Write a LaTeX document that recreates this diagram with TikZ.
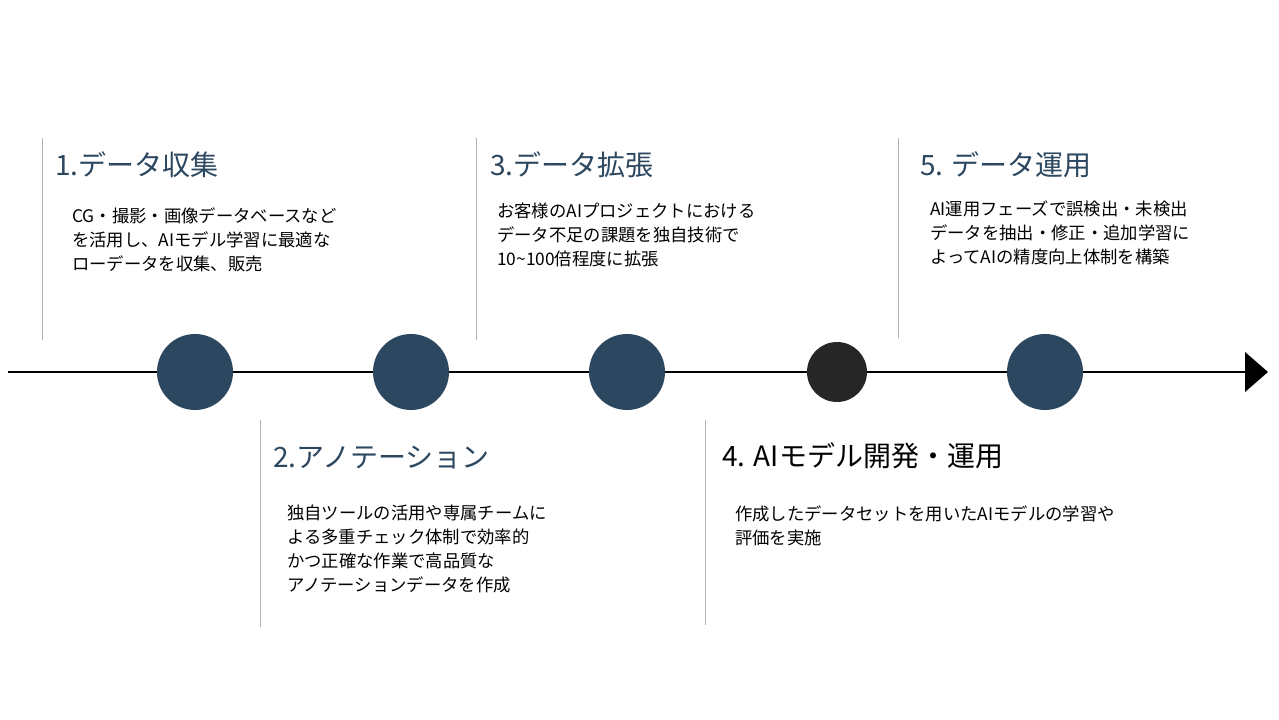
\documentclass[tikz,border=0pt]{standalone}
\usepackage{fontspec}
\setmainfont{Noto Sans CJK JP}
\begin{document}
\begin{tikzpicture}[x=0.75pt,y=-0.75pt,
  dot/.style={circle,fill=navy,draw=none,minimum size=57pt,inner sep=0},
  vline/.style={draw=gray!60,line width=0.6pt},
  ttl/.style={anchor=west,inner sep=0,text=navy,font=\fontsize{21}{25}\selectfont},
  body/.style={anchor=north west,inner sep=0,align=left,font=\fontsize{13}{18}\selectfont}]
\definecolor{navy}{HTML}{2C4760}
\definecolor{dk}{HTML}{262626}
\useasboundingbox (0,0) rectangle (1279,720);
\fill[white] (0,0) rectangle (1279,720);
\coordinate (s) at (8,372);
\coordinate (e) at (1245,372);
\draw[line width=0.9pt] (s) -- (e);
\fill (1245,352) -- (1268,372) -- (1245,392) -- cycle;
\node[dot] (c1) at (195,372) {};
\node[dot] (c2) at (411,372) {};
\node[dot] (c3) at (627,372) {};
\node[dot,fill=dk,minimum size=45pt] (c4) at (837,372) {};
\node[dot] (c5) at (1045,372) {};
\draw[vline] (42,138) -- (42,340);
\draw[vline] (476,138) -- (476,340);
\draw[vline] (898,138) -- (898,338);
\draw[vline] (260,420) -- (260,627);
\draw[vline] (705,420) -- (705,625);
\node[ttl] (t1) at (55,165) {1.データ収集};
\node[ttl] (t2) at (273,458) {2.アノテーション};
\node[ttl] (t3) at (490,165) {3.データ拡張};
\node[ttl,text=black] (t4) at (722,456) {4. AIモデル開発・運用};
\node[ttl] (t5) at (920,165) {5. データ運用};
\node[body] (b1) at (72,207) {CG・撮影・画像データベースなど\\を活用し、AIモデル学習に最適な\\ローデータを収集、販売};
\node[body] (b3) at (497,203) {お客様のAIプロジェクトにおける\\データ不足の課題を独自技術で\\10\textasciitilde100倍程度に拡張};
\node[body] (b5) at (930,201) {AI運用フェーズで誤検出・未検出\\データを抽出・修正・追加学習に\\よってAIの精度向上体制を構築};
\node[body] (b2) at (287,505) {独自ツールの活用や専属チームに\\よる多重チェック体制で効率的\\かつ正確な作業で高品質な\\アノテーションデータを作成};
\node[body] (b4) at (735,505) {作成したデータセットを用いたAIモデルの学習や\\評価を実施};
\end{tikzpicture}
\end{document}
